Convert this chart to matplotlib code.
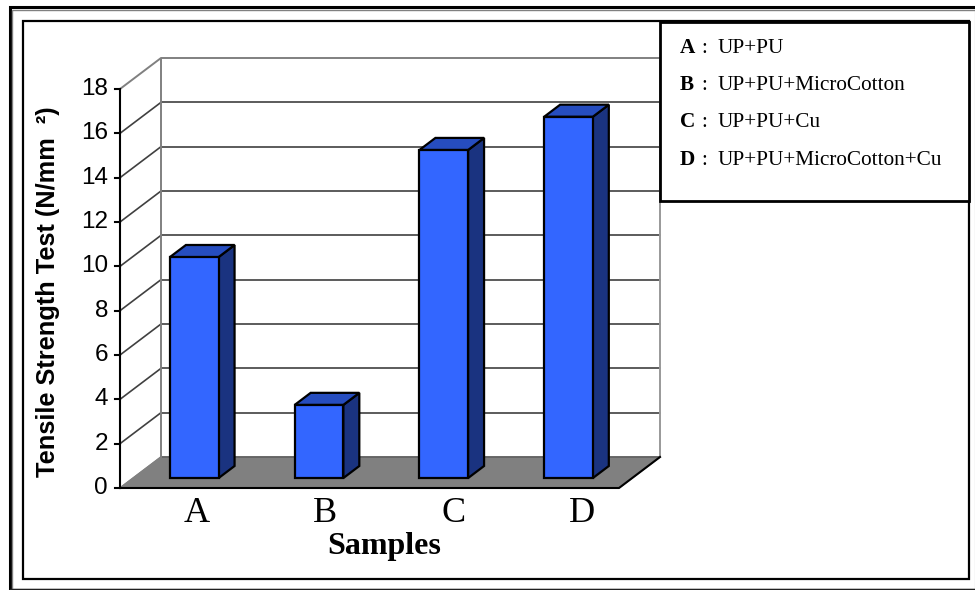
import matplotlib
matplotlib.use('Agg')
import matplotlib.pyplot as plt
from matplotlib.patches import Rectangle

W, H = 975, 590

categories = ['A', 'B', 'C', 'D']
values = [9.97, 3.3, 14.8, 16.3]
y_ticks = [0, 2, 4, 6, 8, 10, 12, 14, 16, 18]
legend_keys = ['A', 'B', 'C', 'D']
legend_names = ['UP+PU', 'UP+PU+MicroCotton', 'UP+PU+Cu', 'UP+PU+MicroCotton+Cu']

SANS = 'Liberation Sans'
SERIF = 'Liberation Serif'

# 3d look: how far the back wall sits from the front plane, in data units
UNIT_X = 124.75  # px per category
UNIT_Y = 22.17  # px per value unit
DX = 41 / UNIT_X
DY = 31 / UNIT_Y
BAR_W = 0.39
BAR_FRONT = 0.32
BAR_BACK = 0.71

fig = plt.figure(figsize=(W / 100, H / 100), dpi=100)
fig.patch.set_facecolor('white')


def frame(x0, y0, x1, y1, color, lw, z=5, face='none'):
    fig.add_artist(Rectangle((x0 / W, 1 - y1 / H), (x1 - x0) / W, (y1 - y0) / H,
                             transform=fig.transFigure, fill=face != 'none',
                             facecolor=face, edgecolor=color, linewidth=lw, zorder=z))


def fig_text(x, y, s, **kw):
    return fig.text(x / W, 1 - y / H, s, **kw)


# axes covers the front plane plus the depth of the box
ax = fig.add_axes([120 / W, 1 - 488 / H, (499 + 41) / W, (399 + 31) / H])
ax.set_xlim(0, 4 + DX)
ax.set_ylim(0, 18 + DY)
ax.axis('off')

# floor
ax.fill([0, 4, 4 + DX, DX], [0, 0, DY, DY], color='#808080', zorder=1, clip_on=False)
ax.plot([DX, 4 + DX], [DY, DY], color='#606060', lw=1.2, zorder=1.5)
ax.plot([0, DX], [0, DY], color='#808080', lw=1.2, zorder=1.5)

# walls and grid
for t in y_ticks[1:-1]:
    ax.plot([0, DX], [t, t + DY], color='#404040', lw=1.2, zorder=2, clip_on=False)
    ax.plot([DX, 4 + DX], [t + DY, t + DY], color='#404040', lw=1.2, zorder=2, clip_on=False)
ax.plot([0, DX, 4 + DX], [18, 18 + DY, 18 + DY], color='#808080', lw=1.4, zorder=2, clip_on=False)
ax.plot([DX, DX], [DY, 18 + DY], color='#808080', lw=1.4, zorder=2)
ax.plot([4 + DX, 4 + DX], [DY, 18 + DY], color='#999999', lw=1.4, zorder=2, clip_on=False)

# front edges
ax.plot([0, 0], [0, 18], color='black', lw=1.5, zorder=3, clip_on=False)
ax.plot([0, 4, 4 + DX], [0, 0, DY], color='black', lw=1.5, zorder=3, clip_on=False)
for t in y_ticks:
    ax.plot([-5 / UNIT_X, 0], [t, t], color='black', lw=1.5, zorder=3, clip_on=False)
    ax.text(-12 / UNIT_X, t, str(t), family=SANS, fontsize=17.5, ha='right', va='center', color='black')

# bars
x_front = [i + 0.49 + BAR_FRONT * DX for i in range(len(values))]
base = BAR_FRONT * DY
ax.bar(x_front, values, width=BAR_W, bottom=base, color='#3366FF',
       edgecolor='black', linewidth=1.6, zorder=6)
d_x = (BAR_BACK - BAR_FRONT) * DX
d_y = (BAR_BACK - BAR_FRONT) * DY
for x, v in zip(x_front, values):
    left, right = x - BAR_W / 2, x + BAR_W / 2
    ax.fill([right, right + d_x, right + d_x, right], [base, base + d_y, base + v + d_y, base + v],
            facecolor='#1A3380', edgecolor='black', linewidth=1.6, zorder=5)
    ax.fill([left, left + d_x, right + d_x, right], [base + v, base + v + d_y, base + v + d_y, base + v],
            facecolor='#264DBF', edgecolor='black', linewidth=1.6, zorder=5)

# category labels drift right of the bars in the original
for i, c in enumerate(categories):
    fig_text(197 + i * 128.3, 514, c, family=SERIF, fontsize=26, ha='center', va='center', color='black')

fig_text(384, 554, 'Samples', family=SERIF, fontsize=23, weight='bold', ha='center', va='baseline', color='black')
fig_text(48, 477, 'Tensile Strength Test (N/mm  ²)', family=SANS, fontsize=18.3, weight='bold',
         rotation=90, ha='center', va='bottom', color='black')

# page frames
frame(9.5, 7, 976, 600, 'black', 2.2)
frame(12, 10, 976, 589, '#808080', 1.0)
fig.add_artist(plt.Line2D([10 / W, 1], [1 - 589 / H, 1 - 589 / H], color='#202020', lw=1.0, zorder=6))
frame(23, 21, 969, 579, 'black', 1.6)

# legend box on top of the chart
frame(659.5, 21.5, 969, 201, 'black', 2.0, z=8, face='white')
row_y = [53, 90, 127, 165]
for yy, k, n in zip(row_y, legend_keys, legend_names):
    fig_text(680, yy, k, family=SERIF, fontsize=15.3, weight='bold', ha='left', va='baseline', zorder=9)
    fig_text(701, yy, ':', family=SERIF, fontsize=15.3, ha='left', va='baseline', zorder=9)
    fig_text(718, yy, n, family=SERIF, fontsize=15.3, ha='left', va='baseline', zorder=9)

fig.savefig('out.png', dpi=100)
